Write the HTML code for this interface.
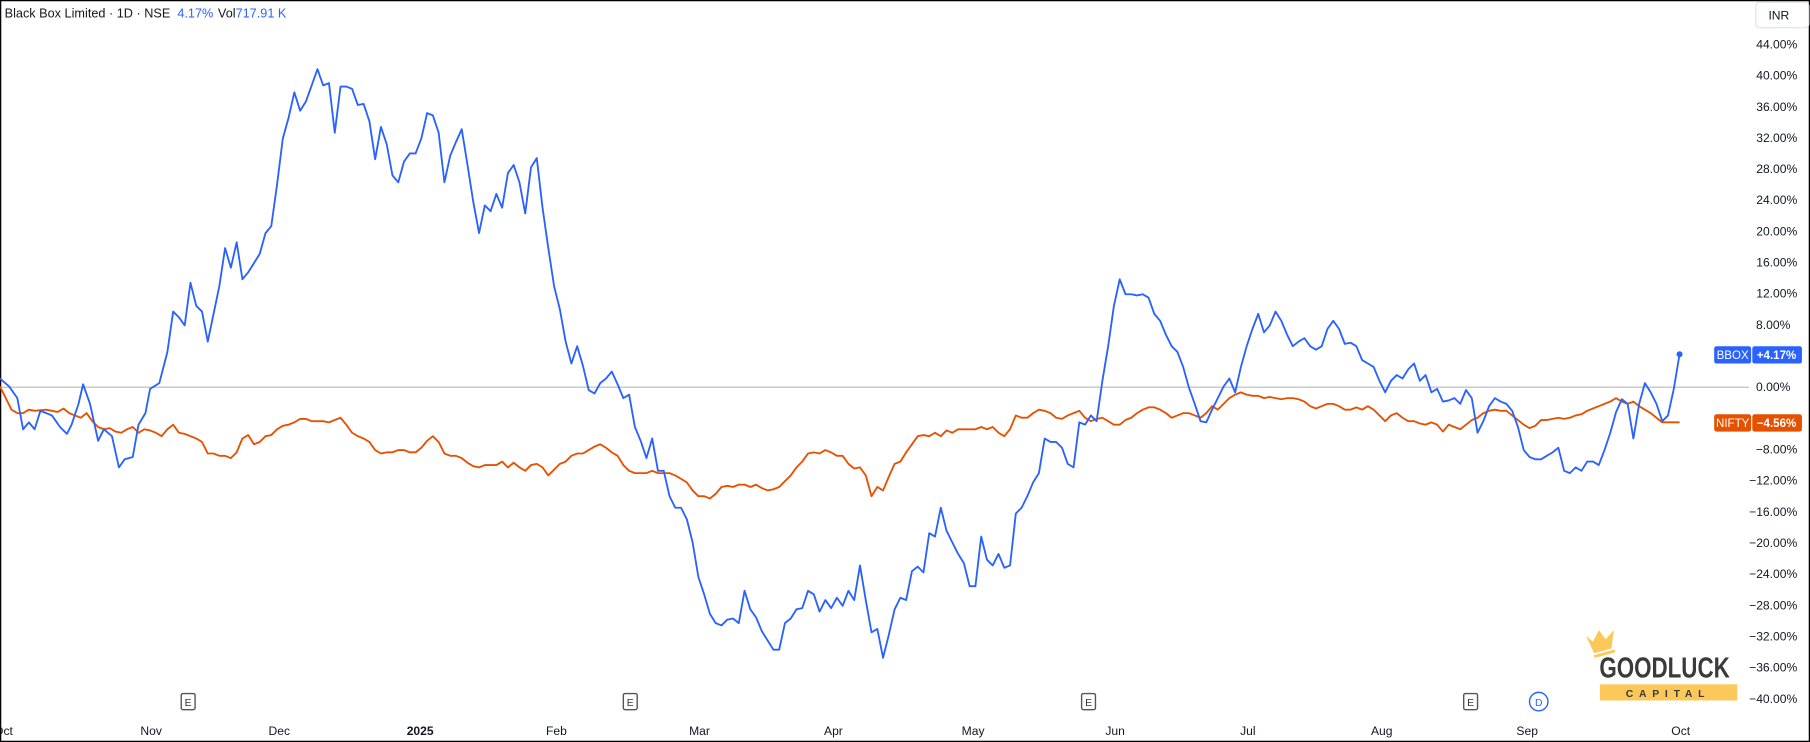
<!DOCTYPE html>
<html><head><meta charset="utf-8"><style>
html,body{margin:0;padding:0;background:#fff;}
svg{display:block;}
text{font-family:"Liberation Sans","DejaVu Sans",sans-serif;}
</style></head><body>
<svg width="1810" height="742" viewBox="0 0 1568 643" preserveAspectRatio="none" xmlns="http://www.w3.org/2000/svg">
<rect x="0.5" y="0.5" width="1567" height="642" fill="#fff" stroke="#000" stroke-width="1.2"/>
<line x1="0" y1="335.5" x2="1515" y2="335.5" stroke="#b8b8b8" stroke-width="1"/>
<text x="4" y="15" font-size="11" fill="#131722">Black Box Limited · 1D · NSE <tspan fill="#2962ff" dx="3">4.17%</tspan><tspan dx="4">Vol</tspan><tspan fill="#2962ff">717.91 K</tspan></text>
<rect x="1521" y="2" width="46" height="22" rx="3" fill="#fff" stroke="#e0e3eb"/>
<text x="1532" y="17" font-size="10.5" fill="#131722">INR</text>
<g font-size="10.5" fill="#131722" text-anchor="end">
<text x="1557" y="42">44.00%</text><text x="1557" y="69">40.00%</text><text x="1557" y="96">36.00%</text><text x="1557" y="123">32.00%</text><text x="1557" y="150">28.00%</text><text x="1557" y="177">24.00%</text><text x="1557" y="204">20.00%</text><text x="1557" y="231">16.00%</text><text x="1557" y="258">12.00%</text><text x="1551" y="285">8.00%</text><text x="1551" y="339">0.00%</text><text x="1557" y="393">−8.00%</text><text x="1557" y="420">−12.00%</text><text x="1557" y="447">−16.00%</text><text x="1557" y="474">−20.00%</text><text x="1557" y="501">−24.00%</text><text x="1557" y="528">−28.00%</text><text x="1557" y="555">−32.00%</text><text x="1557" y="582">−36.00%</text><text x="1557" y="609">−40.00%</text>
</g>
<g font-size="10.5" fill="#131722" text-anchor="middle">
<text x="3" y="637">Oct</text><text x="131" y="637">Nov</text><text x="242" y="637">Dec</text><text x="364" y="637" font-weight="bold">2025</text><text x="482" y="637">Feb</text><text x="606" y="637">Mar</text><text x="722" y="637">Apr</text><text x="843" y="637">May</text><text x="966" y="637">Jun</text><text x="1081" y="637">Jul</text><text x="1197" y="637">Aug</text><text x="1323" y="637">Sep</text><text x="1456" y="637">Oct</text>
</g>
<g font-size="9" fill="#333" text-anchor="middle" stroke-width="1.2">
<rect x="157" y="601" width="12" height="14" rx="1.5" fill="#fff" stroke="#555"/><text x="163" y="612">E</text>
<rect x="540" y="601" width="12" height="14" rx="1.5" fill="#fff" stroke="#555"/><text x="546" y="612">E</text>
<rect x="937" y="601" width="12" height="14" rx="1.5" fill="#fff" stroke="#555"/><text x="943" y="612">E</text>
<rect x="1268" y="601" width="12" height="14" rx="1.5" fill="#fff" stroke="#555"/><text x="1274" y="612">E</text>
<circle cx="1333" cy="608" r="8" fill="#fff" stroke="#2962ff"/><text x="1333" y="612" fill="#2962ff">D</text>
</g>
<polyline fill="none" stroke="#e65100" stroke-width="1.6" stroke-linejoin="round" points="0,335 5,345 10,355 15,358 20,358 25,355 30,356 40,355 50,357 55,354 60,358 65,360 70,362 75,358 80,365 85,370 90,372 95,371 100,374 105,375 110,372 115,370 120,375 125,372 130,373 135,375 140,378 145,372 150,368 155,375 160,376 165,378 170,380 175,383 180,393 185,393 190,395 195,395 200,397 205,392 210,380 215,377 220,385 225,383 230,378 235,377 240,372 245,369 250,368 255,366 260,363 265,363 270,365 275,365 280,365 285,366 290,364 295,362 300,368 305,375 310,378 315,380 320,383 325,390 330,393 335,392 340,392 345,390 350,390 355,392 360,392 365,388 370,382 375,378 380,383 385,393 390,395 395,395 400,397 405,401 410,404 415,405 420,403 425,403 430,403 435,400 440,405 445,401 450,405 455,408 460,403 465,402 470,405 475,412 480,407 485,402 490,400 495,395 500,393 505,393 510,390 515,387 520,385 525,388 530,392 535,395 540,403 545,408 550,410 555,410 560,410 565,408 570,410 575,410 580,410 585,412 590,415 595,418 600,425 605,430 610,430 615,432 620,428 625,422 630,421 635,422 640,420 645,420 650,422 655,420 660,423 665,425 670,424 675,422 680,417 685,412 690,405 695,400 700,393 705,392 710,393 715,390 720,392 725,395 730,395 735,402 740,406 745,405 750,412 755,430 760,422 765,425 770,413 775,402 780,400 785,392 790,385 795,378 800,377 805,378 810,375 815,378 820,373 825,375 830,372 835,372 840,372 845,372 850,370 855,372 860,370 865,375 870,378 875,372 880,360 885,362 890,362 895,358 900,355 905,356 910,358 915,362 920,363 925,360 930,358 935,356 940,362 945,365 950,363 955,362 960,365 965,368 970,368 975,364 980,362 985,358 990,355 995,353 1000,353 1005,355 1010,358 1015,362 1020,360 1025,358 1030,358 1035,360 1040,362 1045,358 1050,352 1055,355 1060,350 1065,345 1070,342 1075,340 1080,342 1085,343 1090,343 1095,345 1100,344 1105,345 1110,346 1115,345 1120,345 1125,346 1130,348 1135,352 1140,354 1145,352 1150,350 1155,350 1160,352 1165,355 1170,355 1175,353 1180,355 1185,352 1190,355 1195,360 1200,365 1205,360 1210,358 1215,362 1220,365 1225,365 1230,367 1235,368 1240,366 1245,368 1250,374 1255,368 1260,370 1265,372 1270,368 1275,364 1280,362 1285,358 1290,356 1295,355 1300,356 1305,356 1310,360 1315,364 1320,368 1325,371 1330,369 1335,364 1340,364 1345,363 1350,362 1355,363 1360,362 1365,360 1370,359 1375,356 1380,354 1385,352 1390,350 1395,348 1400,345 1405,348 1410,350 1415,348 1420,352 1425,355 1430,358 1435,362 1440,366 1445,366 1455,366"/>
<polyline fill="none" stroke="#2962ff" stroke-width="1.6" stroke-linejoin="round" points="0,328 8,335 15,345 20,372 25,366 30,372 35,356 40,358 45,360 52,370 58,376 62,368 68,350 72,333 78,350 85,382 90,372 97,378 103,405 108,398 115,396 120,368 126,358 130,337 138,332 145,305 150,270 155,275 160,282 165,245 170,265 175,270 180,296 185,272 190,248 195,215 200,232 205,210 210,242 215,236 220,228 225,220 230,202 235,196 240,160 245,120 250,102 255,80 260,96 265,88 270,74 275,60 280,74 285,72 290,115 295,75 300,75 305,77 310,91 315,90 320,105 325,138 330,110 335,125 340,152 345,158 350,140 355,133 360,133 365,120 370,98 375,100 380,115 385,158 390,135 395,123 400,112 405,143 410,175 415,202 420,178 425,183 430,168 435,180 440,150 445,143 450,158 455,185 460,145 465,137 470,180 475,215 480,248 485,268 490,296 495,315 500,300 505,317 510,338 515,341 520,332 525,328 530,322 535,333 540,345 545,342 550,370 555,382 560,397 565,380 570,408 575,408 580,430 585,440 590,440 595,450 600,470 605,500 610,515 615,532 620,540 625,542 630,537 635,536 640,540 645,512 650,528 655,535 660,547 665,555 670,563 675,563 680,540 685,536 690,528 695,527 700,512 705,515 710,530 715,520 720,527 725,518 730,525 735,512 740,520 745,490 750,520 755,548 760,545 765,570 770,550 775,528 780,518 785,520 790,495 795,491 800,496 805,462 810,465 815,440 820,460 825,470 830,480 835,488 840,508 845,508 850,465 855,485 860,490 865,480 870,492 875,490 880,445 885,440 890,430 895,418 900,410 905,380 910,383 915,383 920,388 925,402 930,405 935,366 940,368 945,360 950,365 955,330 960,300 965,265 970,242 975,255 980,255 985,256 990,255 995,258 1000,272 1005,278 1010,290 1015,300 1020,305 1025,318 1030,336 1035,350 1040,365 1045,366 1050,355 1055,345 1060,335 1065,328 1070,340 1075,318 1080,300 1085,285 1090,272 1095,288 1100,282 1105,270 1110,278 1115,290 1120,300 1125,296 1130,293 1135,300 1140,303 1145,300 1150,285 1155,278 1160,285 1165,298 1170,297 1175,300 1180,312 1185,315 1190,318 1195,330 1200,340 1205,330 1210,325 1215,328 1220,320 1225,315 1230,330 1235,325 1240,340 1245,337 1250,348 1255,347 1260,345 1265,350 1270,338 1275,345 1280,375 1285,365 1290,352 1295,345 1300,348 1305,350 1310,356 1315,370 1320,390 1325,396 1330,398 1335,398 1340,395 1345,392 1350,388 1355,408 1360,410 1365,405 1370,408 1375,400 1380,400 1385,403 1390,390 1395,375 1400,357 1405,346 1410,350 1415,380 1420,350 1425,332 1430,340 1435,350 1440,365 1445,360 1450,337 1455,307"/>
<circle cx="1455" cy="307" r="2.6" fill="#2962ff"/>
<rect x="1485" y="300" width="32" height="15" rx="2" fill="#2962ff"/><rect x="1518" y="300" width="43" height="15" rx="2" fill="#2962ff"/>
<text x="1501" y="311" font-size="10" fill="#fff" text-anchor="middle">BBOX</text><text x="1539" y="311" font-size="10" fill="#fff" text-anchor="middle" font-weight="bold">+4.17%</text>
<rect x="1485" y="359" width="32" height="15" rx="2" fill="#e65100"/><rect x="1518" y="359" width="43" height="15" rx="2" fill="#e65100"/>
<text x="1501" y="370" font-size="10" fill="#fff" text-anchor="middle">NIFTY</text><text x="1539" y="370" font-size="10" fill="#fff" text-anchor="middle" font-weight="bold">−4.56%</text>
<g>
<path d="M1374,551 L1380,556 L1385,546 L1391,554 L1398,546 L1396,562 L1381,566 Z" fill="#fcc85a"/>
<line x1="1381" y1="569" x2="1399" y2="564" stroke="#fcc85a" stroke-width="2.5"/>
<text x="1442" y="587" font-size="25" font-weight="bold" fill="#3a3a3a" text-anchor="middle" textLength="113" lengthAdjust="spacingAndGlyphs">GOODLUCK</text>
<rect x="1386" y="593" width="119" height="14" fill="#fcc85a"/>
<text x="1445" y="604" font-size="9" font-weight="bold" fill="#3a3a3a" text-anchor="middle" letter-spacing="5">CAPITAL</text>
</g>
</svg>
</body></html>
